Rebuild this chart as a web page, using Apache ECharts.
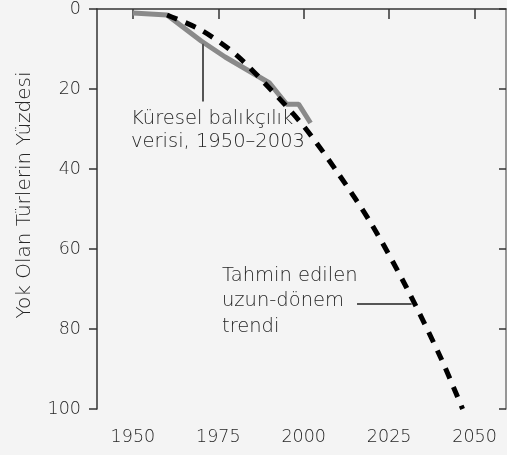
<!DOCTYPE html>
<html>
<head>
<meta charset="utf-8">
<script src="https://cdn.jsdelivr.net/npm/echarts@6/dist/echarts.min.js"></script>
<style>
  html, body { margin: 0; padding: 0; background: #f4f4f4; }
  #chart { width: 507px; height: 455px; }
</style>
</head>
<body>
<div id="chart"></div>
<script>
// veri
const yearTicks = [1950, 1975, 2000, 2025, 2050];
const fisheryYears = [1950, 1960, 1970, 1977, 1985, 1990, 1995, 1998.5, 2002];
const fisheryValues = [1, 1.5, 8, 12, 16, 18.5, 23.8, 23.8, 28.5];
const trendYears = [1960, 1970, 1980, 1990, 2000, 2010, 2020, 2030, 2040, 2046.5];
const trendValues = [1.5, 5.3, 11.3, 19.8, 29.3, 41, 54, 69.5, 87, 100];

const fishery = fisheryYears.map((y, i) => [y, fisheryValues[i]]);
const trend = trendYears.map((y, i) => [y, trendValues[i]]);

const font = 'DejaVu Sans';
const fontSize = 17.5;
const textColor = '#262626';

const chart = echarts.init(document.getElementById('chart'));
chart.setOption({
  backgroundColor: '#f4f4f4',
  animation: false,
  grid: { left: 97, top: 7, right: 1, bottom: 46 },
  xAxis: {
    type: 'value',
    min: 1939.5,
    max: 2059.2,
    splitLine: { show: false },
    axisLine: { lineStyle: { color: '#333', width: 1.5 } },
    axisTick: { customValues: yearTicks, length: 10, lineStyle: { color: '#333', width: 1.5 } },
    axisLabel: {
      customValues: yearTicks,
      formatter: v => String(v),
      margin: 19,
      fontFamily: font, fontWeight: 200, fontSize: fontSize, color: textColor
    }
  },
  yAxis: [{
    type: 'value',
    inverse: true,
    min: 0,
    max: 100,
    interval: 20,
    splitLine: { show: false },
    axisLine: { show: true, lineStyle: { color: '#333', width: 1.5 } },
    axisTick: { length: 8, lineStyle: { color: '#333', width: 1.5 } },
    axisLabel: { margin: 16, fontFamily: font, fontWeight: 200, fontSize: fontSize, color: textColor }
  }, {
    type: 'value',
    position: 'right',
    inverse: true,
    min: 0,
    max: 100,
    interval: 20,
    splitLine: { show: false },
    axisLine: { show: true, lineStyle: { color: '#777', width: 1.5 } },
    axisTick: { inside: true, length: 7, lineStyle: { color: '#333', width: 1.5 } },
    axisLabel: { show: false }
  }],
  series: [{
    name: 'Küresel balıkçılık',
    type: 'line',
    data: fishery,
    symbol: 'none',
    z: 2,
    lineStyle: { color: '#8a8a8a', width: 5 },
    markLine: {
      silent: true,
      symbol: 'none',
      label: { show: false },
      lineStyle: { color: '#555', width: 2, type: 'solid' },
      data: [
        [{ coord: [1970.4, 8.7] }, { coord: [1970.4, 23.1] }],
        [{ coord: [2015.6, 73.7] }, { coord: [2031.6, 73.7] }]
      ]
    }
  }, {
    name: 'Tahmin',
    type: 'line',
    data: trend,
    symbol: 'none',
    smooth: 0.3,
    z: 3,
    lineStyle: { color: '#000', width: 5, type: [11, 9], cap: 'butt' }
  }],
  graphic: [{
    // eksen adı
    type: 'text',
    x: 25,
    y: 195,
    rotation: Math.PI / 2,
    style: {
      text: 'Yok Olan Türlerin Yüzdesi',
      font: '200 20px "DejaVu Sans"',
      align: 'center',
      verticalAlign: 'middle',
      fill: textColor
    }
  }, {
    type: 'text',
    left: 131,
    top: 107,
    style: {
      text: 'Küresel balıkçılık\nverisi, 1950–2003',
      font: '200 19.5px "DejaVu Sans"',
      lineHeight: 23,
      fill: textColor
    }
  }, {
    type: 'text',
    left: 222,
    top: 263,
    style: {
      text: 'Tahmin edilen\nuzun-dönem\ntrendi',
      font: '200 19.5px "DejaVu Sans"',
      lineHeight: 25.5,
      fill: textColor
    }
  }]
});
</script>
</body>
</html>
